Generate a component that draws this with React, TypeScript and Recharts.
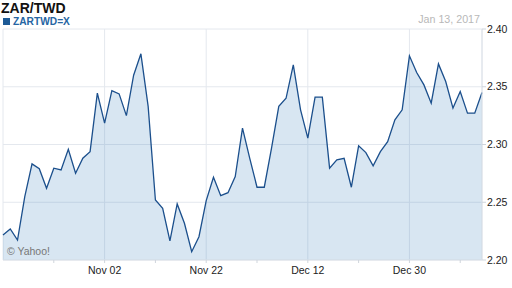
import React from "react";
import { AreaChart, Area, XAxis, YAxis, CartesianGrid } from "recharts";

const dates = ["Oct 13","Oct 14","Oct 17","Oct 18","Oct 19","Oct 20","Oct 21","Oct 24","Oct 25","Oct 26","Oct 27","Oct 28","Oct 31","Nov 01","Nov 02","Nov 03","Nov 04","Nov 07","Nov 08","Nov 09","Nov 10","Nov 11","Nov 14","Nov 15","Nov 16","Nov 17","Nov 18","Nov 21","Nov 22","Nov 23","Nov 24","Nov 25","Nov 28","Nov 29","Nov 30","Dec 01","Dec 02","Dec 05","Dec 06","Dec 07","Dec 08","Dec 09","Dec 12","Dec 13","Dec 14","Dec 15","Dec 16","Dec 19","Dec 20","Dec 21","Dec 22","Dec 23","Dec 26","Dec 27","Dec 28","Dec 29","Dec 30","Jan 02","Jan 03","Jan 04","Jan 05","Jan 06","Jan 09","Jan 10","Jan 11","Jan 12","Jan 13"];

const rates = [2.2217,2.2269,2.2173,2.2549,2.2832,2.2790,2.2621,2.2795,2.2780,2.2959,2.2751,2.2881,2.2938,2.3445,2.3185,2.3467,2.3438,2.3250,2.3600,2.3785,2.3330,2.2520,2.2448,2.2165,2.2485,2.2318,2.2072,2.2202,2.2514,2.2717,2.2557,2.2583,2.2722,2.3141,2.2880,2.2630,2.2630,2.2968,2.3330,2.3400,2.3690,2.3300,2.3055,2.3410,2.3410,2.2795,2.2867,2.2881,2.2630,2.2988,2.2930,2.2815,2.2938,2.3025,2.3213,2.3300,2.3768,2.3623,2.3516,2.3358,2.3698,2.3545,2.3315,2.3459,2.3271,2.3271,2.3450];

const tickDates = ["Oct 24","Nov 02","Nov 11","Nov 22","Dec 01","Dec 12","Dec 21","Dec 30","Jan 10"];
const labelDates = ["Nov 02","Nov 22","Dec 12","Dec 30"];
const gridDates = ["Oct 13","Nov 02","Nov 22","Dec 12","Dec 30"];
const yTicks = [2.2, 2.25, 2.3, 2.35, 2.4];

const data = dates.map((d, i) => ({ date: d, rate: rates[i] }));

const FONT = "'Liberation Sans', Arial, sans-serif";

export default function App() {
  return (
    <div style={{ position: "absolute", left: 0, top: 0, width: 512, height: 288, background: "#fff", fontFamily: FONT }}>
      <AreaChart width={512} height={288} data={data} margin={{ top: 29, right: 0, bottom: 0, left: 3 }}>
        <CartesianGrid xAxisId="grid" stroke="#e4e8ee" strokeWidth={1} />
        <XAxis xAxisId="grid" dataKey="date" hide ticks={gridDates} interval={0} />
        <XAxis
          dataKey="date"
          ticks={tickDates}
          interval={0}
          height={28}
          tickSize={3}
          tickMargin={4}
          tickFormatter={(v: string) => (labelDates.includes(v) ? v : "")}
          tick={{ fill: "#222", fontSize: 10.5, fontFamily: FONT }}
          axisLine={{ stroke: "#dde2e8" }}
          tickLine={{ stroke: "#cfd5dc" }}
        />
        <YAxis
          orientation="right"
          type="number"
          domain={[2.2, 2.4]}
          ticks={yTicks}
          width={30}
          tickSize={4}
          tickMargin={1}
          tickFormatter={(v: number) => v.toFixed(2)}
          tick={{ fill: "#222", fontSize: 10.5, fontFamily: FONT, textAnchor: "start" }}
          axisLine={{ stroke: "#dde2e8" }}
          tickLine={{ stroke: "#cfd5dc" }}
        />
        <Area
          type="linear"
          dataKey="rate"
          stroke="#1b4f8c"
          strokeWidth={1.3}
          fill="#3a80c0"
          fillOpacity={0.2}
          isAnimationActive={false}
          dot={false}
          activeDot={false}
        />
      </AreaChart>
      <div style={{ position: "absolute", left: 1, top: 2.1, fontSize: 14, fontWeight: "bold", lineHeight: "12px", color: "#111" }}>ZAR/TWD</div>
      <div style={{ position: "absolute", left: 3, top: 17.5, width: 7, height: 7, background: "#1d5a96" }} />
      <div style={{ position: "absolute", left: 13, top: 17.8, fontSize: 10.2, fontWeight: "bold", lineHeight: "8px", color: "#2565a3" }}>ZARTWD=X</div>
      <div style={{ position: "absolute", right: 32, top: 14, fontSize: 10.7, lineHeight: "11px", color: "#b8b8b8" }}>Jan 13, 2017</div>
      <div style={{ position: "absolute", left: 7, top: 246, fontSize: 10.5, lineHeight: "11px", color: "#777" }}>© Yahoo!</div>
    </div>
  );
}
